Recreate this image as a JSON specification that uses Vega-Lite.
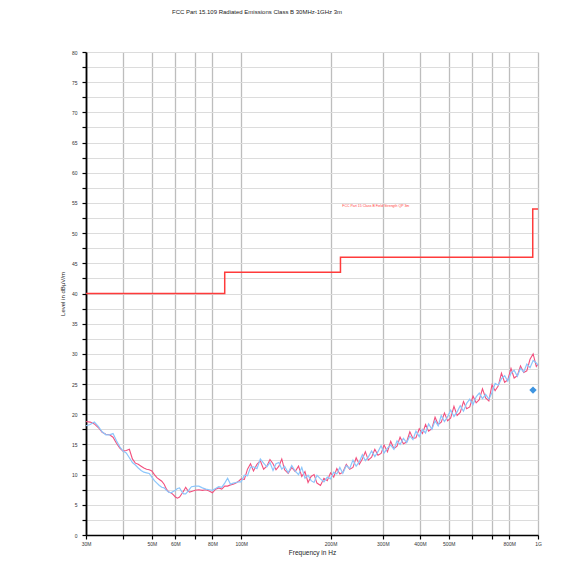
{
  "$schema": "https://vega.github.io/schema/vega-lite/v6.json",
  "autosize": {"type": "none"},
  "padding": {"left": 86, "top": 52, "right": 46, "bottom": 51},
  "width": 452,
  "height": 483,
  "background": "white",
  "config": {
    "font": "Liberation Sans",
    "view": {"stroke": null}
  },
  "title": {
    "text": "FCC Part 15.109 Radiated Emissions Class B 30MHz-1GHz 3m",
    "anchor": "start",
    "frame": "group",
    "dx": 86,
    "offset": 35,
    "fontSize": 6,
    "fontWeight": "normal",
    "color": "#222222",
    "font": "Liberation Sans"
  },
  "datasets": {
    "traces": [
      {"f": 30, "r": 18.8, "b": 18.1}, {"f": 31, "r": 18.7, "b": 18.3}, {"f": 32, "r": 18.4, "b": 18.7},
      {"f": 33, "r": 17.8, "b": 18.0}, {"f": 34, "r": 17.0, "b": 17.1}, {"f": 35, "r": 16.7, "b": 16.6},
      {"f": 36, "r": 16.6, "b": 16.6}, {"f": 37, "r": 16.2, "b": 16.8}, {"f": 38, "r": 15.2, "b": 15.6},
      {"f": 39, "r": 14.4, "b": 14.6}, {"f": 40, "r": 13.9, "b": 13.9}, {"f": 41, "r": 14.0, "b": 13.6},
      {"f": 42, "r": 14.2, "b": 12.8}, {"f": 43, "r": 12.6, "b": 12.0}, {"f": 44, "r": 11.9, "b": 11.6},
      {"f": 45, "r": 11.7, "b": 11.1}, {"f": 46, "r": 11.4, "b": 10.7}, {"f": 47, "r": 11.1, "b": 10.4},
      {"f": 48, "r": 10.9, "b": 10.3}, {"f": 49, "r": 10.8, "b": 10.2}, {"f": 50, "r": 10.6, "b": 9.6},
      {"f": 51, "r": 10.0, "b": 9.0}, {"f": 52, "r": 9.5, "b": 8.6}, {"f": 53, "r": 9.2, "b": 8.2},
      {"f": 54, "r": 8.9, "b": 7.9}, {"f": 55, "r": 8.4, "b": 7.8}, {"f": 56, "r": 7.6, "b": 7.4},
      {"f": 57, "r": 7.1, "b": 7.1}, {"f": 58, "r": 7.0, "b": 7.0}, {"f": 59, "r": 6.7, "b": 7.2},
      {"f": 60, "r": 6.3, "b": 7.4}, {"f": 61, "r": 6.1, "b": 7.7}, {"f": 62, "r": 6.3, "b": 7.8},
      {"f": 63, "r": 6.8, "b": 7.2}, {"f": 64, "r": 7.3, "b": 6.8}, {"f": 65, "r": 7.9, "b": 6.8},
      {"f": 66, "r": 7.4, "b": 7.2}, {"f": 67, "r": 7.1, "b": 7.6}, {"f": 68, "r": 7.2, "b": 8.0},
      {"f": 70, "r": 7.4, "b": 8.1}, {"f": 72, "r": 7.5, "b": 8.1}, {"f": 74, "r": 7.4, "b": 7.8},
      {"f": 76, "r": 7.5, "b": 7.6}, {"f": 78, "r": 7.3, "b": 7.5}, {"f": 80, "r": 7.0, "b": 7.4},
      {"f": 82, "r": 7.6, "b": 7.7}, {"f": 84, "r": 7.8, "b": 8.0}, {"f": 86, "r": 7.6, "b": 7.9},
      {"f": 88, "r": 8.1, "b": 8.6}, {"f": 90, "r": 8.1, "b": 9.4}, {"f": 92, "r": 8.3, "b": 8.4},
      {"f": 94, "r": 8.4, "b": 8.6}, {"f": 96, "r": 8.6, "b": 8.7}, {"f": 98, "r": 8.9, "b": 8.8},
      {"f": 100, "r": 9.3, "b": 8.8}, {"f": 102.5, "r": 9.2, "b": 9.9}, {"f": 105, "r": 10.9, "b": 9.8},
      {"f": 107.5, "r": 11.8, "b": 11.2}, {"f": 110, "r": 10.6, "b": 11.3}, {"f": 113, "r": 11.7, "b": 11.0},
      {"f": 116, "r": 12.3, "b": 12.6}, {"f": 119, "r": 10.9, "b": 11.9}, {"f": 122, "r": 11.4, "b": 11.3},
      {"f": 125, "r": 12.5, "b": 12.0}, {"f": 128, "r": 11.8, "b": 10.7}, {"f": 131, "r": 10.8, "b": 11.8},
      {"f": 134, "r": 11.4, "b": 12.0}, {"f": 137, "r": 12.6, "b": 10.9}, {"f": 140, "r": 10.8, "b": 11.4},
      {"f": 144, "r": 10.2, "b": 10.3}, {"f": 148, "r": 11.2, "b": 11.5}, {"f": 152, "r": 10.5, "b": 10.6},
      {"f": 156, "r": 11.4, "b": 10.0}, {"f": 160, "r": 9.7, "b": 11.2}, {"f": 164, "r": 10.5, "b": 9.4},
      {"f": 168, "r": 8.7, "b": 9.9}, {"f": 172, "r": 9.7, "b": 9.0}, {"f": 176, "r": 10.0, "b": 8.7},
      {"f": 180, "r": 8.6, "b": 9.9}, {"f": 185, "r": 8.2, "b": 9.3}, {"f": 190, "r": 9.4, "b": 8.8},
      {"f": 195, "r": 9.0, "b": 9.6}, {"f": 200, "r": 10.3, "b": 9.3}, {"f": 205, "r": 9.6, "b": 10.4},
      {"f": 210, "r": 11.0, "b": 10.1}, {"f": 215, "r": 10.1, "b": 11.2}, {"f": 220, "r": 10.4, "b": 10.2},
      {"f": 226, "r": 11.7, "b": 11.5}, {"f": 232, "r": 10.9, "b": 11.0}, {"f": 238, "r": 11.2, "b": 12.4},
      {"f": 244, "r": 12.8, "b": 11.4}, {"f": 250, "r": 11.7, "b": 12.1}, {"f": 256, "r": 12.6, "b": 13.3},
      {"f": 262, "r": 13.8, "b": 12.3}, {"f": 268, "r": 12.4, "b": 12.9}, {"f": 275, "r": 12.9, "b": 13.9},
      {"f": 282, "r": 14.2, "b": 13.0}, {"f": 289, "r": 13.2, "b": 13.8}, {"f": 296, "r": 13.5, "b": 14.8},
      {"f": 303, "r": 14.9, "b": 13.6}, {"f": 311, "r": 13.8, "b": 14.4}, {"f": 319, "r": 15.5, "b": 14.9},
      {"f": 327, "r": 14.3, "b": 14.2}, {"f": 335, "r": 14.7, "b": 15.6}, {"f": 343, "r": 16.2, "b": 15.0},
      {"f": 352, "r": 15.1, "b": 16.0}, {"f": 361, "r": 15.4, "b": 15.3}, {"f": 370, "r": 17.1, "b": 16.4},
      {"f": 379, "r": 16.0, "b": 15.8}, {"f": 388, "r": 16.1, "b": 17.2}, {"f": 398, "r": 17.6, "b": 16.3},
      {"f": 408, "r": 16.8, "b": 17.5}, {"f": 418, "r": 18.3, "b": 16.9}, {"f": 428, "r": 17.2, "b": 18.4},
      {"f": 439, "r": 17.6, "b": 17.5}, {"f": 450, "r": 19.5, "b": 18.9}, {"f": 461, "r": 18.3, "b": 18.1},
      {"f": 472, "r": 18.7, "b": 19.8}, {"f": 484, "r": 20.2, "b": 18.8}, {"f": 496, "r": 18.9, "b": 19.6},
      {"f": 508, "r": 19.4, "b": 20.7}, {"f": 521, "r": 21.3, "b": 19.6}, {"f": 534, "r": 19.8, "b": 20.4},
      {"f": 547, "r": 20.3, "b": 21.4}, {"f": 561, "r": 22.1, "b": 20.5}, {"f": 575, "r": 20.9, "b": 21.8},
      {"f": 589, "r": 21.2, "b": 22.5}, {"f": 604, "r": 23.0, "b": 21.6}, {"f": 619, "r": 21.9, "b": 22.9},
      {"f": 634, "r": 22.4, "b": 23.5}, {"f": 650, "r": 24.2, "b": 22.6}, {"f": 666, "r": 22.7, "b": 23.3},
      {"f": 683, "r": 22.2, "b": 22.5}, {"f": 700, "r": 24.9, "b": 23.6}, {"f": 717, "r": 23.9, "b": 25.1},
      {"f": 735, "r": 24.7, "b": 24.8}, {"f": 753, "r": 26.8, "b": 25.9}, {"f": 772, "r": 25.3, "b": 26.4},
      {"f": 791, "r": 25.7, "b": 25.5}, {"f": 811, "r": 27.6, "b": 26.8}, {"f": 831, "r": 26.0, "b": 27.3},
      {"f": 852, "r": 26.4, "b": 26.3}, {"f": 873, "r": 28.0, "b": 27.6}, {"f": 895, "r": 26.9, "b": 27.0},
      {"f": 917, "r": 27.2, "b": 28.3}, {"f": 940, "r": 29.1, "b": 27.7}, {"f": 963, "r": 30.0, "b": 28.9},
      {"f": 987, "r": 27.9, "b": 28.5}, {"f": 1000, "r": 28.3, "b": 28.1}
    ],
    "limit": [
      {"f": 30, "limit": 40}, {"f": 88, "limit": 43.5}, {"f": 216, "limit": 46},
      {"f": 960, "limit": 54}, {"f": 1000, "limit": 54}
    ],
    "peaks": [{"f": 962, "level": 24.0}],
    "notes": [{"f": 219, "level": 54.5, "label": "FCC Part 15 Class B Field Strength QP 3m"}]
  },
  "encoding": {
    "x": {
      "field": "f",
      "type": "quantitative",
      "scale": {"type": "log", "domain": [30, 1000], "nice": false},
      "axis": {
        "title": "Frequency in Hz",
        "titleFontSize": 6.5,
        "titleFontWeight": "normal",
        "titleColor": "#222222",
        "titlePadding": 3,
        "values": [30, 40, 50, 60, 70, 80, 100, 200, 300, 400, 500, 600, 700, 800, 1000],
        "labelExpr": "datum.value == 1000 ? '1G' : (indexof([40, 70, 600, 700], datum.value) >= 0 ? '' : datum.value + 'M')",
        "labelFontSize": 5,
        "labelColor": "#333333",
        "labelPadding": 2,
        "labelFlush": false,
        "labelOverlap": false,
        "tickColor": "#000000",
        "tickSize": 4,
        "tickWidth": 1.2,
        "domainColor": "#000000",
        "domainWidth": 1.5,
        "gridColor": "#bdbdbd",
        "gridWidth": 1.3,
        "grid": true
      }
    },
    "y": {
      "type": "quantitative",
      "scale": {"domain": [0, 80], "nice": false, "zero": false},
      "axis": {
        "title": "Level in dBµV/m",
        "titleFontSize": 6,
        "titleFontWeight": "normal",
        "titleColor": "#222222",
        "titlePadding": 6,
        "values": [0, 2.5, 5, 7.5, 10, 12.5, 15, 17.5, 20, 22.5, 25, 27.5, 30, 32.5, 35, 37.5, 40, 42.5, 45, 47.5, 50, 52.5, 55, 57.5, 60, 62.5, 65, 67.5, 70, 72.5, 75, 77.5, 80],
        "labelExpr": "datum.value % 5 == 0 ? datum.label : ''",
        "labelFontSize": 5,
        "labelColor": "#333333",
        "labelPadding": 5,
        "labelFlush": false,
        "tickColor": "#000000",
        "tickSize": 4,
        "tickWidth": 1.2,
        "domainColor": "#000000",
        "domainWidth": 1.8,
        "gridColor": "#dcdcdc",
        "gridWidth": 1,
        "grid": true
      }
    }
  },
  "layer": [
    {
      "data": {"name": "limit"},
      "mark": {"type": "line", "color": "#ff3b3b", "strokeWidth": 1.5, "interpolate": "step-after"},
      "encoding": {"y": {"field": "limit", "type": "quantitative"}}
    },
    {
      "data": {"name": "traces"},
      "mark": {"type": "line", "color": "#f2507e", "strokeWidth": 1.1},
      "encoding": {"y": {"field": "r", "type": "quantitative"}}
    },
    {
      "data": {"name": "traces"},
      "mark": {"type": "line", "color": "#8cc6fb", "strokeWidth": 1.2},
      "encoding": {"y": {"field": "b", "type": "quantitative"}}
    },
    {
      "data": {"name": "peaks"},
      "mark": {"type": "point", "shape": "diamond", "filled": true, "color": "#3d94e0", "size": 55, "opacity": 1},
      "encoding": {"y": {"field": "level", "type": "quantitative"}}
    },
    {
      "data": {"name": "notes"},
      "mark": {"type": "text", "align": "left", "baseline": "middle", "fontSize": 3.5, "color": "#ff4444"},
      "encoding": {"y": {"field": "level", "type": "quantitative"}, "text": {"field": "label"}}
    }
  ]
}
